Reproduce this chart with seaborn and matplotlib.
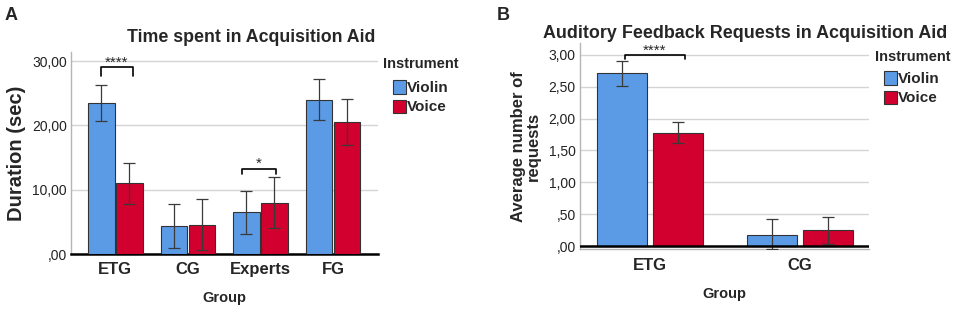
import matplotlib
matplotlib.use("Agg")
import matplotlib.pyplot as plt
import seaborn as sns
import pandas as pd
import numpy as np
from matplotlib.patches import Rectangle
from matplotlib.ticker import FuncFormatter

# ---------------- data ----------------
groups_a = ["ETG", "CG", "Experts", "FG"]
violin_a = [23.4, 4.3, 6.5, 24.0]
voice_a = [11.0, 4.5, 8.0, 20.5]
violin_a_lo = [20.7, 0.9, 3.1, 20.9]
violin_a_hi = [26.2, 7.8, 9.8, 27.2]
voice_a_lo = [7.8, 0.6, 4.0, 16.9]
voice_a_hi = [14.2, 8.5, 11.9, 24.1]

groups_b = ["ETG", "CG"]
violin_b = [2.71, 0.18]
voice_b = [1.78, 0.25]
violin_b_lo = [2.51, -0.05]
violin_b_hi = [2.90, 0.43]
voice_b_lo = [1.61, 0.03]
voice_b_hi = [1.95, 0.46]

instruments = ["Violin", "Voice"]
colors = ["#5B9BE6", "#D2002E"]

sns.set_theme(style="white")
plt.rcParams['font.family'] = ['Liberation Sans', 'DejaVu Sans']

W, H = 957, 309
fig = plt.figure(figsize=(9.57, 3.09), dpi=100)
axA = fig.add_axes([71 / W, 1 - 254 / H, 307 / W, 202 / H])
axB = fig.add_axes([580 / W, 1 - 249.3 / H, 289 / W, 206 / H])


def comma_fmt(decimals):
    def f(v, pos):
        s = f"{v:.{decimals}f}".replace(".", ",")
        if s.startswith("0,"):
            s = s[1:]
        return s
    return FuncFormatter(f)


def draw(ax, groups, vio, voi, vlo, vhi, clo, chi, width, gap):
    df = pd.DataFrame({
        "Group": groups * 2,
        "Instrument": ["Violin"] * len(groups) + ["Voice"] * len(groups),
        "Value": list(vio) + list(voi),
    })
    sns.barplot(data=df, x="Group", y="Value", hue="Instrument",
                hue_order=instruments, palette=colors, errorbar=None,
                saturation=1, width=width, gap=gap, edgecolor="#333333",
                linewidth=0.8, ax=ax, legend=False, zorder=3)
    los = list(vlo) + list(clo)
    his = list(vhi) + list(chi)
    vals = list(vio) + list(voi)
    for p, v, lo, hi in zip(ax.patches, vals, los, his):
        xc = p.get_x() + p.get_width() / 2
        ax.errorbar(xc, v, yerr=[[v - lo], [hi - v]], fmt="none",
                    ecolor="#3a3a3a", elinewidth=0.9, capsize=4,
                    capthick=0.9, zorder=4)
    return ax


# ---------------- Panel A ----------------
draw(axA, groups_a, violin_a, voice_a, violin_a_lo, violin_a_hi,
     voice_a_lo, voice_a_hi, 0.77, 0.047)
axA.set_xlim(-0.61, 3.62)
axA.set_ylim(0, 31.4)
axA.set_yticks([0, 10, 20, 30])
axA.yaxis.set_major_formatter(comma_fmt(2))
axA.yaxis.grid(True, color="#d4d4d4", linewidth=1.0, zorder=0)
axA.set_axisbelow(True)
fig.text(251 / W, 1 - 37 / H, "Time spent in Acquisition Aid", fontsize=12.8,
         fontweight="bold", ha="center", va="center")
axA.set_ylabel("Duration (sec)", fontsize=14.5, fontweight="bold", labelpad=4)
axA.set_xlabel("Group", fontsize=10.5, fontweight="bold", labelpad=10)

# ---------------- Panel B ----------------
draw(axB, groups_b, violin_b, voice_b, violin_b_lo, violin_b_hi,
     voice_b_lo, voice_b_hi, 0.742, 0.1)
axB.set_xlim(-0.467, 1.462)
axB.set_ylim(-0.05, 3.18)
axB.set_yticks([0, 0.5, 1, 1.5, 2, 2.5, 3])
axB.yaxis.set_major_formatter(comma_fmt(2))
axB.yaxis.grid(True, color="#d4d4d4", linewidth=1.0, zorder=0)
axB.set_axisbelow(True)
axB.axhline(0, color="black", linewidth=1.8, zorder=5)
fig.text(745 / W, 1 - 33 / H, "Auditory Feedback Requests in Acquisition Aid",
         fontsize=12.9, fontweight="bold", ha="center", va="center")
axB.set_ylabel("Average number of\nrequests", fontsize=12, fontweight="bold",
               labelpad=6, linespacing=0.95)
axB.set_xlabel("Group", fontsize=10.5, fontweight="bold", labelpad=10)

for ax in (axA, axB):
    sns.despine(ax=ax, top=True, right=True)
    ax.spines["left"].set_color("#b5b5b5")
    ax.spines["left"].set_linewidth(1.0)
    ax.tick_params(axis="y", length=0, labelsize=10, colors="#222222", pad=3)
    ax.tick_params(axis="x", length=0, labelsize=12, pad=6)
    for t in ax.get_xticklabels():
        t.set_fontweight("bold")
axA.spines["bottom"].set_color("black")
axA.spines["bottom"].set_linewidth(1.8)
axB.spines["bottom"].set_color("#b5b5b5")
axB.spines["bottom"].set_linewidth(1.0)


# significance brackets
def bracket(ax, x0, x1, y, h, text, size):
    ax.plot([x0, x0, x1, x1], [y - h, y, y, y - h], color="black",
            linewidth=1.2, zorder=6, clip_on=False)
    ax.annotate(text, ((x0 + x1) / 2, y), xytext=(0, -1.5),
                textcoords="offset points", ha="center", va="bottom",
                fontsize=size, zorder=6, annotation_clip=False)


pa = axA.patches
bracket(axA, pa[0].get_x() + pa[0].get_width() * 0.48,
        pa[4].get_x() + pa[4].get_width() * 0.64, 29.0, 1.3, "****", 11)
bracket(axA, pa[2].get_x() + pa[2].get_width() * 0.33,
        pa[6].get_x() + pa[6].get_width() * 0.55, 13.2, 0.7, "*", 11)
pb = axB.patches
bracket(axB, pb[0].get_x() + pb[0].get_width() * 0.56,
        pb[2].get_x() + pb[2].get_width() * 0.64, 2.99, 0.06, "****", 11)


# legends (title and entries in figure pixel coordinates)
def legend(x_title, y_title, x_patch, y_rows):
    fig.text(x_title / W, 1 - y_title / H, "Instrument", fontsize=10.5,
             fontweight="bold", ha="left", va="center")
    for lab, c, yr in zip(instruments, colors, y_rows):
        fig.patches.append(Rectangle((x_patch / W, 1 - (yr + 6.5) / H),
                                     13 / W, 13 / H, facecolor=c,
                                     edgecolor="#333333", linewidth=0.8,
                                     transform=fig.transFigure, figure=fig))
        fig.text((x_patch + 14) / W, 1 - (yr + 1) / H, lab, fontsize=11,
                 fontweight="bold", ha="left", va="center")


legend(383, 64, 393, [87, 106])
legend(875, 57, 884, [78, 97])

fig.text(5 / W, 1 - 16 / H, "A", fontsize=13, fontweight="bold", va="center")
fig.text(497 / W, 1 - 16 / H, "B", fontsize=13, fontweight="bold", va="center")

fig.savefig("out.png", dpi=100)
